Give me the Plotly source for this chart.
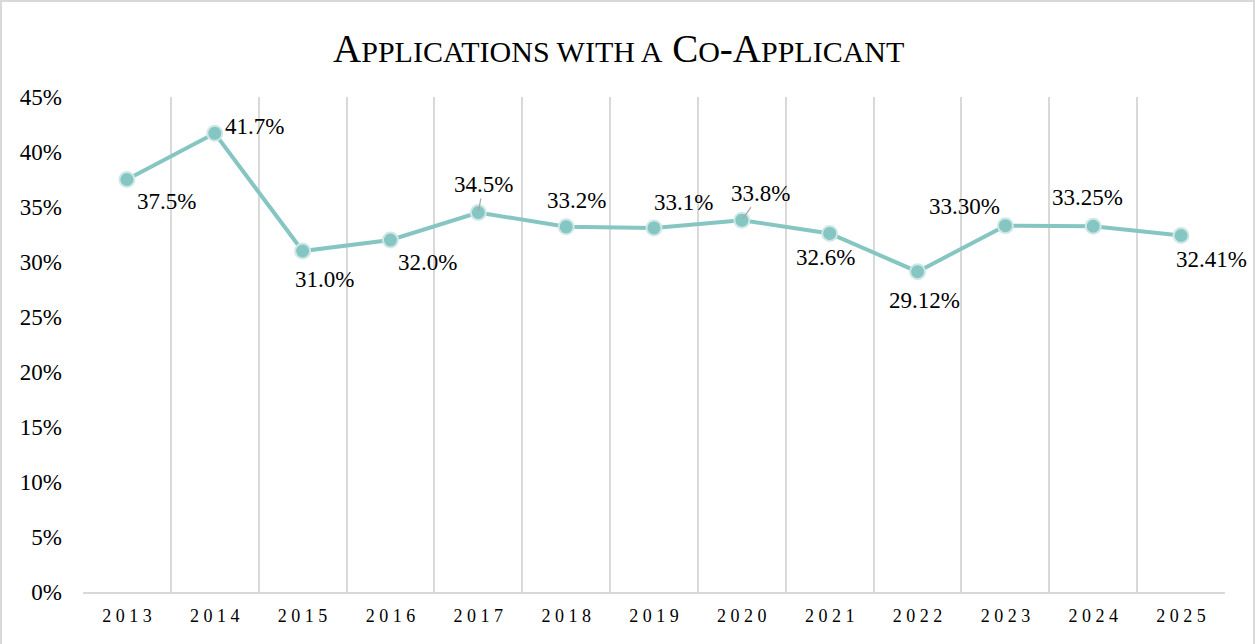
import plotly.graph_objects as go

years = ["2013", "2014", "2015", "2016", "2017", "2018", "2019",
         "2020", "2021", "2022", "2023", "2024", "2025"]
values = [37.5, 41.7, 31.0, 32.0, 34.5, 33.2, 33.1, 33.8, 32.6, 29.12, 33.30, 33.25, 32.41]
labels = ["37.5%", "41.7%", "31.0%", "32.0%", "34.5%", "33.2%", "33.1%",
          "33.8%", "32.6%", "29.12%", "33.30%", "33.25%", "32.41%"]
tick_text = [" ".join(y) for y in years]
y_ticks = [0, 5, 10, 15, 20, 25, 30, 35, 40, 45]
y_tick_text = [f"{v}%" for v in y_ticks]

# label offsets in pixels (dx, dy up) and whether a leader line is drawn
label_offsets = [(40, -22), (40, 7), (22, -28), (37, -22), (5, 28), (10, 26), (29, 25),
                 (19, 27), (-4, -24), (7, -29), (-41, 19), (-6, 29), (30, -24)]
leaders = [False, False, False, False, True, False, False,
           True, False, False, False, False, False]

W, H = 1255, 644
ML, MR, MT, MB = 83, 30, 97, 52
PW, PH = W - ML - MR, H - MT - MB

LINE = "#85C6C3"
GRID = "#D9D9D9"
FONT = "Liberation Serif"

fig = go.Figure()
fig.add_trace(go.Scatter(
    x=years, y=values, mode="lines+markers",
    line=dict(color=LINE, width=4),
    marker=dict(size=15, color=LINE, line=dict(color="#CFE8E6", width=2)),
    hoverinfo="skip", showlegend=False,
))

for i, (v, lab, (dx, dy), ld) in enumerate(zip(values, labels, label_offsets, leaders)):
    if ld:
        fig.add_annotation(x=i, y=v, text=lab, showarrow=True, ax=dx, ay=-dy,
                           arrowhead=0, arrowwidth=1.2, arrowcolor="#A6A6A6",
                           standoff=2,
                           font=dict(family=FONT, size=23, color="#000000"))
    else:
        fig.add_annotation(x=i, y=v, text=lab, showarrow=False, xshift=dx, yshift=dy,
                           font=dict(family=FONT, size=23, color="#000000"))

# outer frame
fig.add_shape(type="rect", xref="paper", yref="paper",
              x0=(1 - ML) / PW, x1=1 + (MR - 1) / PW,
              y0=-(MB + 5) / PH, y1=1 + (MT - 1) / PH,
              line=dict(color=GRID, width=2), fillcolor="rgba(0,0,0,0)", layer="below")

S = "<span style='font-size:30px'>"
title_text = f"A{S}PPLICATIONS WITH A</span> C{S}O</span>-A{S}PPLICANT</span>"

fig.update_layout(
    width=W, height=H,
    margin=dict(l=ML, r=MR, t=MT, b=MB),
    paper_bgcolor="white", plot_bgcolor="white",
    title=dict(text=title_text, x=0.493, xref="container",
               xanchor="center", y=1 - 48 / H, yanchor="middle", yref="container",
               font=dict(family=FONT, size=39, color="#000000")),
    xaxis=dict(type="category", tickmode="array", tickvals=years, ticktext=tick_text,
               tickson="boundaries", showgrid=True, gridcolor=GRID, gridwidth=2,
               showline=True, linecolor=GRID, linewidth=2, ticks="",
               range=[-0.5, len(years) - 0.5], ticklabelstandoff=6,
               tickfont=dict(family=FONT, size=18, color="#000000")),
    yaxis=dict(range=[0, 45], tickmode="array", tickvals=y_ticks, ticktext=y_tick_text,
               showgrid=False, zeroline=False, showline=False, ticks="",
               ticklabelstandoff=20,
               tickfont=dict(family=FONT, size=23, color="#000000")),
)

fig.write_html("out.html", config={"displayModeBar": False},
               post_script="document.body.style.margin='0';document.body.style.overflow='hidden';")
